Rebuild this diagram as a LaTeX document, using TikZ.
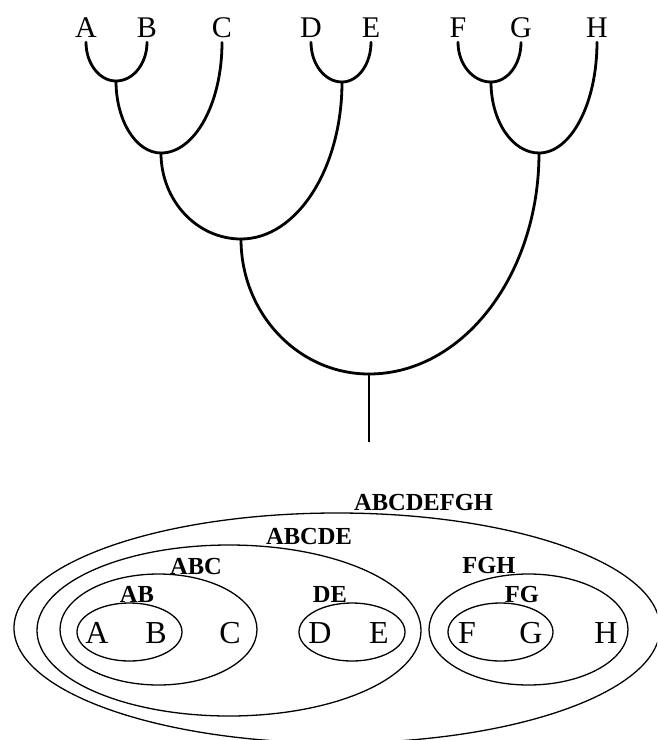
\documentclass[tikz,border=0pt]{standalone}
\usepackage{fontspec}
\setmainfont{Liberation Serif}
\usetikzlibrary{calc}
\tikzset{
  tree/.style={line width=2.8pt, line cap=round},
  stem/.style={line width=2pt},
  ring/.style={line width=1.3pt},
  leaf/.style={font=\fontsize{30}{30}\selectfont, inner xsep=0pt, inner ysep=5pt, anchor=base},
  member/.style={font=\fontsize{32}{32}\selectfont, inner sep=0pt, anchor=base},
  setname/.style={font=\fontsize{24.5}{24.5}\selectfont\bfseries, inner sep=0pt, anchor=base},
}
\newcommand\twig[2]{\draw[tree] (#1) .. controls ($(#1)!0.552!(#1|-#2)$) and ($(#2)!0.552!(#2-|#1)$) .. (#2);}
\begin{document}
\begin{tikzpicture}[x=1pt,y=-1pt]
\useasboundingbox (0,0) rectangle (657,740);
\clip (0,0) rectangle (657,740);
% ---- tree ----
\node[leaf] (lA) at (86,37) {A};
\node[leaf] (lB) at (147,37) {B};
\node[leaf] (lC) at (222,37) {C};
\node[leaf] (lD) at (311,37) {D};
\node[leaf] (lE) at (371,37) {E};
\node[leaf] (lF) at (458,37) {F};
\node[leaf] (lG) at (521,37) {G};
\node[leaf] (lH) at (597,37) {H};
\coordinate (jAB) at (116,81);
\coordinate (jABC) at (161,153);
\coordinate (jDE) at (342,82);
\coordinate (jABCDE) at (241,239);
\coordinate (jFG) at (491,82);
\coordinate (jFGH) at (539,153);
\coordinate (jRoot) at (369,374);
\coordinate (rootEnd) at (369,442);
\twig{lA.south}{jAB}
\twig{lB.south}{jAB}
\twig{jAB}{jABC}
\twig{lC.south}{jABC}
\twig{lD.south}{jDE}
\twig{lE.south}{jDE}
\twig{jABC}{jABCDE}
\twig{jDE}{jABCDE}
\twig{lF.south}{jFG}
\twig{lG.south}{jFG}
\twig{jFG}{jFGH}
\twig{lH.south}{jFGH}
\twig{jABCDE}{jRoot}
\twig{jFGH}{jRoot}
\draw[stem] (jRoot) -- (rootEnd);
% ---- nested sets ----
\draw[ring] (337,628) ellipse [x radius=323pt, y radius=115pt];
\draw[ring] (229,630.5) ellipse [x radius=192pt, y radius=85.5pt];
\draw[ring] (158.5,629.5) ellipse [x radius=98.5pt, y radius=55.5pt];
\draw[ring] (528.5,629.5) ellipse [x radius=99.5pt, y radius=55.5pt];
\draw[ring] (129.5,632) ellipse [x radius=52.5pt, y radius=29pt];
\draw[ring] (352,632) ellipse [x radius=53pt, y radius=29pt];
\draw[ring] (500.5,632) ellipse [x radius=52.5pt, y radius=29pt];
\node[member] (mA) at (97,643) {A};
\node[member] (mB) at (156,643) {B};
\node[member] (mC) at (230,643) {C};
\node[member] (mD) at (320,643) {D};
\node[member] (mE) at (379,643) {E};
\node[member] (mF) at (467,643) {F};
\node[member] (mG) at (531,643) {G};
\node[member] (mH) at (606,643) {H};
\node[setname] (sAll) at (423.5,510) {ABCDEFGH};
\node[setname] (sABCDE) at (309,544) {ABCDE};
\node[setname] (sABC) at (196,574) {ABC};
\node[setname] (sAB) at (137,602) {AB};
\node[setname] (sDE) at (330,602) {DE};
\node[setname] (sFGH) at (489,573) {FGH};
\node[setname] (sFG) at (522,602) {FG};
\end{tikzpicture}
\end{document}
